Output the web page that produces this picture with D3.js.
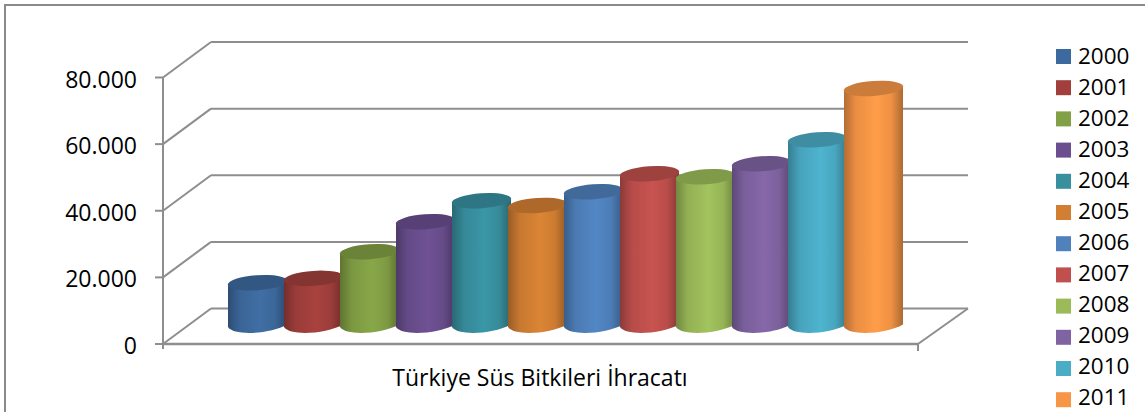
<!DOCTYPE html>
<html><head><meta charset="utf-8">
<script src="https://cdn.jsdelivr.net/npm/d3@7"></script>
<style>html,body{margin:0;padding:0;background:#fff;overflow:hidden}svg{display:block}text{font-family:"Open Sans",sans-serif;fill:#000}</style>
</head><body><svg id="c" width="1145" height="412"></svg>
<script>
const years=["2000","2001","2002","2003","2004","2005","2006","2007","2008","2009","2010","2011"];
const values=[12700,14000,22000,31000,37300,35900,40000,45400,44500,48400,55600,71000];
const colors=["#3d6a9e","#a13f3c","#82a045","#6a4e8e","#38909f","#d27f33","#4f81bd","#c0504d","#9bbb59","#8064a2","#4bacc6","#f79646"];
const tickValues=[0,20000,40000,60000,80000];
const tickLabels=["0","20.000","40.000","60.000","80.000"];
const title="Türkiye Süs Bitkileri İhracatı";

const svg=d3.select("#c"), defs=svg.append("defs");
const grey="#8e8e8e";
const yFront=d3.scaleLinear().domain([0,80000]).range([344,77.5]);
const x=d3.scaleBand().domain(years).range([228,900]).padding(0);
const depthX=48, depthY=-35.5, frontL=163, frontR=918;
const baseY=325, rx=29.5, ry=7.5, tilt=-4;
const yBar=v=>baseY-(yFront(0)-yFront(v));

svg.append("rect").attr("x",5).attr("y",5).attr("width",1200).attr("height",480).attr("fill","#fff").attr("stroke","#8a8a8a").attr("stroke-width",2);

const line=(g,x1,y1,x2,y2,w=2)=>g.append("line").attr("x1",x1).attr("y1",y1).attr("x2",x2).attr("y2",y2).attr("stroke",grey).attr("stroke-width",w);
const grid=svg.append("g");
tickValues.forEach((t,i)=>{
  const y=yFront(t);
  line(grid,frontL,y,frontL+depthX,y+depthY);
  line(grid,frontL+depthX,y+depthY,968,y+depthY);
  line(grid,frontL-8,y,frontL,y);
  svg.append("text").attr("x",137).attr("y",y+10).attr("text-anchor","end").attr("font-size",23).text(tickLabels[i]);
});
line(grid,frontL,yFront(80000),frontL,yFront(0)+5);
line(grid,frontL,yFront(0),frontR,yFront(0),2.5);
line(grid,frontR,yFront(0),968,yFront(0)+depthY);
line(grid,frontR,yFront(0),frontR,yFront(0)+7);

const bars=svg.append("g");
years.forEach((yr,i)=>{
  const c=d3.color(colors[i]);
  const g=defs.append("linearGradient").attr("id","g"+i).attr("x1",0).attr("x2",1).attr("y1",0).attr("y2",0);
  [[0,c.darker(0.9)],[0.2,c.darker(0.15)],[0.55,c.brighter(0.12)],[0.8,c.darker(0.1)],[1,c.darker(1.0)]].forEach(([o,k])=>g.append("stop").attr("offset",o).attr("stop-color",k));
  const cx=x(yr)+x.bandwidth()/2+1.5, yt=yBar(values[i]);
  const dy=Math.tan(-tilt*Math.PI/180)*rx;
  const p=d3.path();
  p.moveTo(cx-rx,yt+dy);
  p.lineTo(cx-rx,baseY+dy);
  p.bezierCurveTo(cx-rx+6,baseY+dy+ry*1.25,cx+rx-16,baseY+dy+ry*0.9,cx+rx,baseY-dy+ry*0.2);
  p.lineTo(cx+rx,yt-dy);
  p.closePath();
  bars.append("path").attr("d",p.toString()).attr("fill",`url(#g${i})`);
  bars.append("ellipse").attr("cx",cx).attr("cy",yt).attr("rx",rx+0.3).attr("ry",ry)
    .attr("transform",`rotate(${tilt} ${cx} ${yt})`).attr("fill",c.darker(0.55));
});

svg.append("text").attr("x",540).attr("y",386).attr("text-anchor","middle").attr("font-size",23).text(title);

const legend=svg.append("g");
years.forEach((yr,i)=>{
  legend.append("rect").attr("x",1056).attr("y",49+i*31.2).attr("width",15).attr("height",15).attr("fill",colors[i]);
  legend.append("text").attr("x",1078).attr("y",64+i*31).attr("font-size",22.5).text(yr);
});
</script></body></html>
